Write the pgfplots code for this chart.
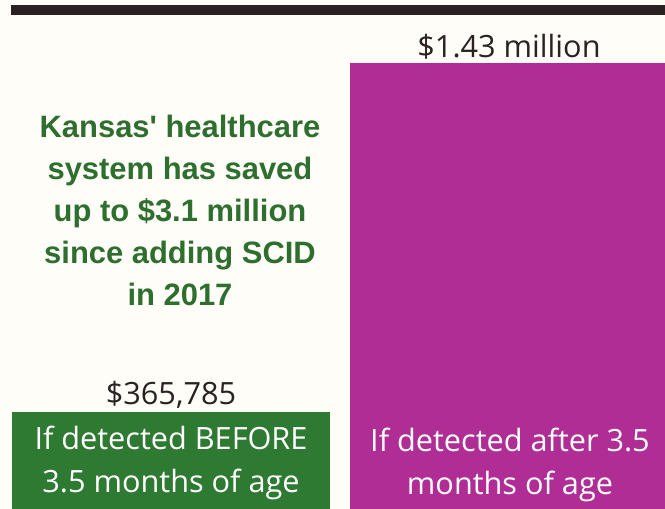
\documentclass[border=0pt]{standalone}
\usepackage{pgfplots}
\pgfplotsset{compat=1.18}
\usepackage{fontspec}
\setmainfont{Open Sans}
\newfontfamily\arialb{Liberation Sans}
\definecolor{bargreen}{HTML}{2F7A33}
\definecolor{barmag}{HTML}{B02D96}
\definecolor{txtgreen}{HTML}{2E6E2E}
\definecolor{cream}{HTML}{FFFDF8}
\definecolor{darktxt}{HTML}{2A2222}
\begin{document}
\begin{tikzpicture}
\begin{axis}[
  scale only axis,
  width=498.75pt, height=381.75pt,
  xmin=0, xmax=665,
  ymin=0.070, ymax=1.622,
  hide axis,
  clip=true,
  axis background/.style={fill=cream},
  ybar, bar shift=0pt, bar width=318,
  nodes near coords style={font=\fontsize{23}{27}\selectfont, text=darktxt, anchor=south, inner sep=2.5pt},
]
\addplot[fill=bargreen, draw=none, nodes near coords={\$365,785}] coordinates {(171,0.365785)};
\addplot[fill=barmag, draw=none, nodes near coords={\$1.43 million}] coordinates {(509,1.43)};
\draw[line width=7.5pt, color=darktxt] (axis cs:11,1.591) -- (axis cs:665,1.591);
\node[align=center, text=txtgreen, font=\arialb\bfseries\fontsize{23.2}{31.5}\selectfont] at (axis cs:180,0.979)
  {Kansas' healthcare\\system has saved\\up to \$3.1 million\\since adding SCID\\in 2017};
\node[align=center, text=white, font=\fontsize{23}{32.3}\selectfont] at (axis cs:171,0.210)
  {If detected BEFORE\\3.5 months of age};
\node[align=center, text=white, font=\fontsize{23}{32.3}\selectfont] at (axis cs:510,0.204)
  {If detected after 3.5\\months of age};
\end{axis}
\end{tikzpicture}
\end{document}
